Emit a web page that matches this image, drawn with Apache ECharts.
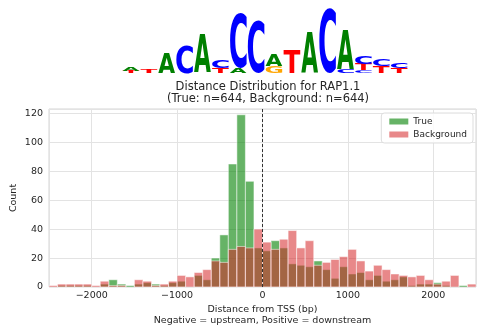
<!DOCTYPE html>
<html>
<head>
<meta charset="utf-8">
<script src="https://cdn.jsdelivr.net/npm/echarts@6/dist/echarts.min.js"></script>
<style>
  html, body { margin: 0; padding: 0; background: #fff; }
  #chart { width: 477px; height: 326px; }
</style>
</head>
<body>
<div id="chart"></div>
<script>
// histogram: 50 bins of 100 bp from -2500 to 2500
const binStart = -2500
const binWidth = 100
const trueCounts = [
  0, 1, 1, 1, 1, 0, 2, 5, 2, 1,
  2, 3, 2, 1, 3, 4, 0, 8, 5, 20,
  36, 85, 119, 73, 27, 25, 32, 27, 16, 15,
  14, 18, 12, 6, 14, 9, 10, 5, 8, 4,
  5, 7, 1, 2, 2, 3, 1, 0, 1, 0
]
const bgCounts = [
  1, 2, 2, 2, 2, 1, 4, 1, 1, 0,
  5, 4, 1, 2, 4, 8, 7, 10, 12, 18,
  17, 26, 28, 27, 40, 31, 26, 33, 39, 27,
  32, 15, 17, 19, 21, 26, 18, 11, 15, 12,
  9, 8, 7, 8, 5, 2, 4, 8, 0, 2
]

// sequence logo: letters of each position from bottom to top, heights in bits
const logoLetters = [
  ['T', 'A'], ['T'], ['A'], ['C'], ['A'], ['T', 'C'], ['A', 'C'], ['C'],
  ['G', 'A'], ['T'], ['A'], ['C'], ['C', 'A'], ['C', 'T', 'C'], ['T', 'C'], ['T', 'C']
]
const logoHeights = [
  [0.06, 0.1], [0.1], [0.62], [0.86], [1.17], [0.15, 0.25], [0.15, 1.7], [1.63],
  [0.2, 0.37], [0.71], [1.26], [2.0], [0.1, 1.23], [0.08, 0.2, 0.25], [0.2, 0.2], [0.15, 0.15]
]
const logoColors = { A: '#008000', C: '#0000ff', G: '#ffa500', T: '#ff0000' }

const TEXT = '#262626'
const FONT = 'DejaVu Sans'
const LOGO_FONT = 'bold 100px "DejaVu Sans"'

// glyph bounds, so each letter can be stretched to fill its box
const measureCtx = document.createElement('canvas').getContext('2d')
measureCtx.font = LOGO_FONT
measureCtx.textBaseline = 'middle'
measureCtx.textAlign = 'left'
const glyph = {}
Object.keys(logoColors).forEach(ch => {
  const m = measureCtx.measureText(ch)
  glyph[ch] = {
    l: m.actualBoundingBoxLeft, r: m.actualBoundingBoxRight,
    a: m.actualBoundingBoxAscent, d: m.actualBoundingBoxDescent
  }
})

const logoItems = []
logoLetters.forEach((letters, i) => {
  let base = 0
  letters.forEach((ch, j) => {
    const h = logoHeights[i][j]
    logoItems.push({ pos: i + 1, letter: ch, y0: base, y1: base + h })
    base += h
  })
})

const toBins = counts => counts.map((c, i) => [binStart + i * binWidth, binStart + (i + 1) * binWidth, c])

const renderBar = (params, api) => {
  const c = api.value(2)
  if (!c) return null
  const p0 = api.coord([api.value(0), 0])
  const p1 = api.coord([api.value(1), c])
  return {
    type: 'rect',
    shape: { x: p0[0], y: p1[1], width: p1[0] - p0[0], height: p0[1] - p1[1] },
    style: { fill: api.visual('color'), stroke: 'rgba(255,255,255,0.85)', lineWidth: 0.6 }
  }
}

const renderLetter = (params, api) => {
  const it = logoItems[params.dataIndex]
  const tl = api.coord([it.pos - 0.47, it.y1])
  const br = api.coord([it.pos + 0.47, it.y0])
  const g = glyph[it.letter]
  const sx = (br[0] - tl[0]) / (g.l + g.r)
  const sy = (br[1] - tl[1]) / (g.a + g.d)
  return {
    type: 'text',
    x: tl[0] + g.l * sx,
    y: tl[1] + g.a * sy,
    scaleX: sx,
    scaleY: sy,
    style: { text: it.letter, font: LOGO_FONT, fill: logoColors[it.letter], align: 'left', verticalAlign: 'middle' }
  }
}

const minus = v => String(v).replace('-', '\u2212')

const chart = echarts.init(document.getElementById('chart'))

chart.setOption({
  animation: false,
  textStyle: { fontFamily: FONT },
  title: {
    text: 'Distance Distribution for RAP1.1\n(True: n=644, Background: n=644)',
    left: 263,
    textAlign: 'center',
    top: 76,
    textStyle: { fontFamily: FONT, fontSize: 11.5, fontWeight: 'normal', color: TEXT, lineHeight: 12 }
  },
  legend: {
    data: ['True', 'Background'],
    orient: 'vertical',
    right: 4,
    top: 113,
    icon: 'rect',
    itemWidth: 19,
    itemHeight: 6,
    itemGap: 4,
    padding: [4, 6, 4, 8],
    backgroundColor: 'rgba(255,255,255,0.85)',
    borderColor: '#dddddd',
    borderWidth: 1,
    borderRadius: 3,
    textStyle: { fontFamily: FONT, fontSize: 9, color: TEXT }
  },
  grid: [
    { left: 49, right: 1, top: 109, bottom: 39, show: true, borderColor: '#d4d4d4', borderWidth: 1, outerBoundsMode: 'none' },
    { left: 122, width: 286, top: 8, height: 65, outerBoundsMode: 'none' }
  ],
  xAxis: [
    {
      type: 'value',
      gridIndex: 0,
      min: -2500,
      max: 2500,
      splitNumber: 5,
      name: 'Distance from TSS (bp)\nNegative = upstream, Positive = downstream',
      nameLocation: 'middle',
      nameGap: 17,
      nameMoveOverlap: false,
      nameTextStyle: { fontFamily: FONT, fontSize: 9.5, color: TEXT, lineHeight: 11 },
      axisLine: { show: false },
      axisTick: { show: false },
      axisLabel: { fontFamily: FONT, fontSize: 9.5, color: TEXT, margin: 4, showMinLabel: false, showMaxLabel: false, formatter: minus },
      splitLine: { lineStyle: { color: '#e3e3e3', width: 1 } }
    },
    { type: 'value', gridIndex: 1, min: 0.5, max: 16.5, show: false }
  ],
  yAxis: [
    {
      type: 'value',
      gridIndex: 0,
      min: 0,
      max: 123,
      interval: 20,
      name: 'Count',
      nameLocation: 'middle',
      nameGap: 30,
      nameMoveOverlap: false,
      nameTextStyle: { fontFamily: FONT, fontSize: 9.5, color: TEXT },
      axisLine: { show: false },
      axisTick: { show: false },
      axisLabel: { fontFamily: FONT, fontSize: 9.5, color: TEXT, margin: 6, showMaxLabel: false },
      splitLine: { lineStyle: { color: '#e3e3e3', width: 1 } }
    },
    { type: 'value', gridIndex: 1, min: 0, max: 2, show: false }
  ],
  series: [
    {
      name: 'True',
      type: 'custom',
      xAxisIndex: 0,
      yAxisIndex: 0,
      itemStyle: { color: 'rgba(0,128,0,0.6)' },
      renderItem: renderBar,
      encode: { x: [0, 1], y: 2 },
      data: toBins(trueCounts)
    },
    {
      name: 'Background',
      type: 'custom',
      xAxisIndex: 0,
      yAxisIndex: 0,
      itemStyle: { color: 'rgba(214,39,40,0.55)' },
      renderItem: renderBar,
      encode: { x: [0, 1], y: 2 },
      data: toBins(bgCounts),
      markLine: {
        silent: true,
        symbol: 'none',
        label: { show: false },
        lineStyle: { color: '#333333', type: [3, 2], width: 1 },
        data: [{ xAxis: 0 }]
      }
    },
    {
      name: 'logo',
      type: 'custom',
      xAxisIndex: 1,
      yAxisIndex: 1,
      renderItem: renderLetter,
      encode: { x: 0, y: [1, 2] },
      data: logoItems.map(it => [it.pos, it.y0, it.y1])
    }
  ]
})
</script>
</body>
</html>
